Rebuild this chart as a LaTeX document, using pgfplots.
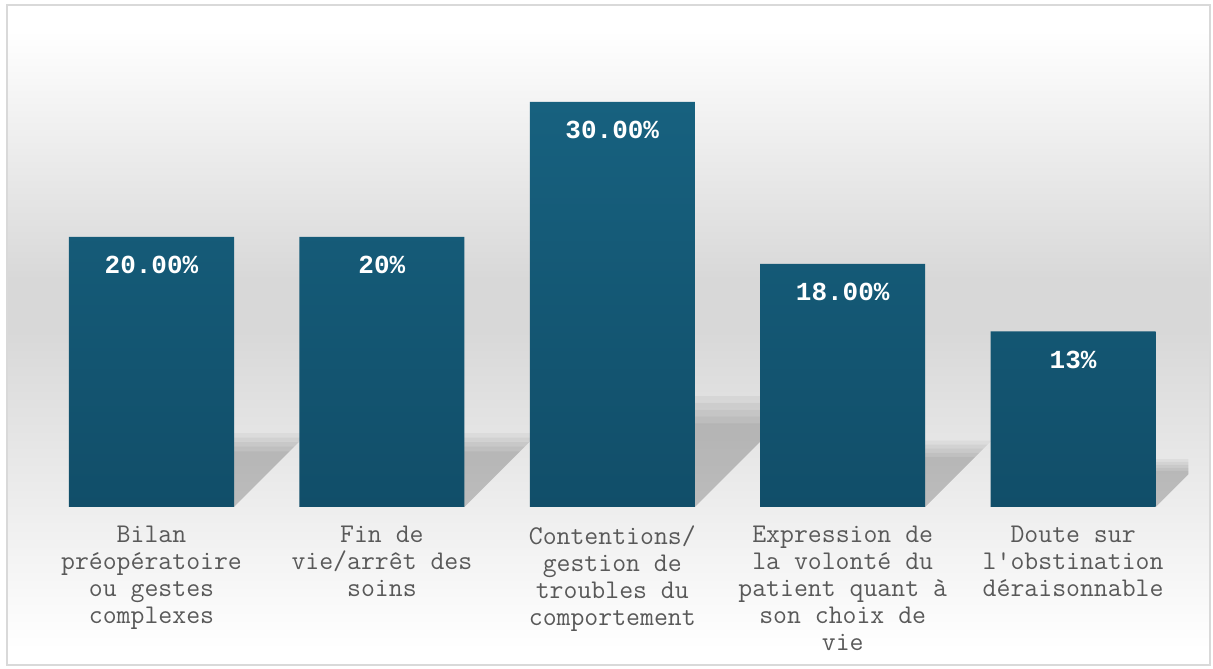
\documentclass[border=0pt]{standalone}
\usepackage{fontspec}
\newfontfamily\labfont[Ligatures=TeXOff]{Liberation Mono}
\usepackage{pgfplots}
\pgfplotsset{compat=1.18}
\definecolor{bartop}{HTML}{17617F}
\definecolor{barbot}{HTML}{114E69}
\definecolor{bggray}{HTML}{D8D8D8}
\definecolor{labgray}{HTML}{595959}
\definecolor{framecol}{HTML}{D9D9D9}
\newcommand\shadowlayer[4]{% center, dx, dy, factor
  \fill[black,opacity=0.045] (axis cs:#1-0.358,0) -- (axis cs:#1+0.358,0)
    -- (axis cs:#1+0.358+#2*#4,#3*#4) -- (axis cs:#1-0.358+#2*#4,#3*#4) -- cycle;}
\newcommand\shadowbar[3]{%
  \shadowlayer{#1}{#2}{#3}{1.14}\shadowlayer{#1}{#2}{#3}{1.07}%
  \shadowlayer{#1}{#2}{#3}{1.0}\shadowlayer{#1}{#2}{#3}{0.93}%
  \shadowlayer{#1}{#2}{#3}{0.86}}
\begin{document}
\begin{tikzpicture}
\useasboundingbox (0,0) rectangle (606.5pt,334pt);
\fill[white] (0,0) rectangle (606.5pt,334pt);
\shade[top color=white,bottom color=bggray] (3.5pt,194pt) rectangle (605pt,319pt);
\fill[bggray] (3.5pt,169pt) rectangle (605pt,194pt);
\shade[top color=bggray,bottom color=white] (3.5pt,9pt) rectangle (605pt,169pt);
\draw[framecol, line width=0.8pt] (3.5pt,1.5pt) rectangle (605pt,331.5pt);
\begin{axis}[
  at={(18.15pt,80.5pt)}, anchor=south west,
  scale only axis, width=576pt, height=236.25pt,
  xmin=-0.5, xmax=4.5, ymin=0, ymax=35,
  axis line style={draw=none}, tick style={draw=none},
  ytick=\empty, xtick={0,1,2,3,4},
  xticklabels={{Bilan\\préopératoire\\ou gestes\\complexes},
    {Fin de\\vie/arrêt des\\soins},
    {Contentions/\\gestion de\\troubles du\\comportement},
    {Expression de\\la volonté du\\patient quant à\\son choix de\\vie},
    {Doute sur\\l'obstination\\déraisonnable}},
  xticklabel style={font=\ttfamily\fontsize{13.5pt}{13.5pt}\selectfont, text=labgray, align=center, anchor=north, yshift=-1.5pt},
  ybar, bar width=82.5pt,
  nodes near coords, point meta=explicit symbolic,
  nodes near coords style={font=\labfont\bfseries\fontsize{13pt}{15pt}\selectfont, text=white, anchor=center, yshift=-14pt},
]
\begin{scope}
\clip (axis cs:-0.5,0) rectangle (axis cs:4.5,35);
\shadowbar{0}{0.281}{4.8}
\shadowbar{1}{0.281}{4.8}
\shadowbar{2}{0.422}{7.2}
\shadowbar{3}{0.253}{4.32}
\shadowbar{4}{0.183}{3.12}
\end{scope}
\addplot[draw=none, top color=bartop, bottom color=barbot]
  coordinates {(0,20) [20.00\%] (1,20) [20\%] (2,30) [30.00\%] (3,18) [18.00\%] (4,13) [13\%]};
\end{axis}
\end{tikzpicture}
\end{document}
